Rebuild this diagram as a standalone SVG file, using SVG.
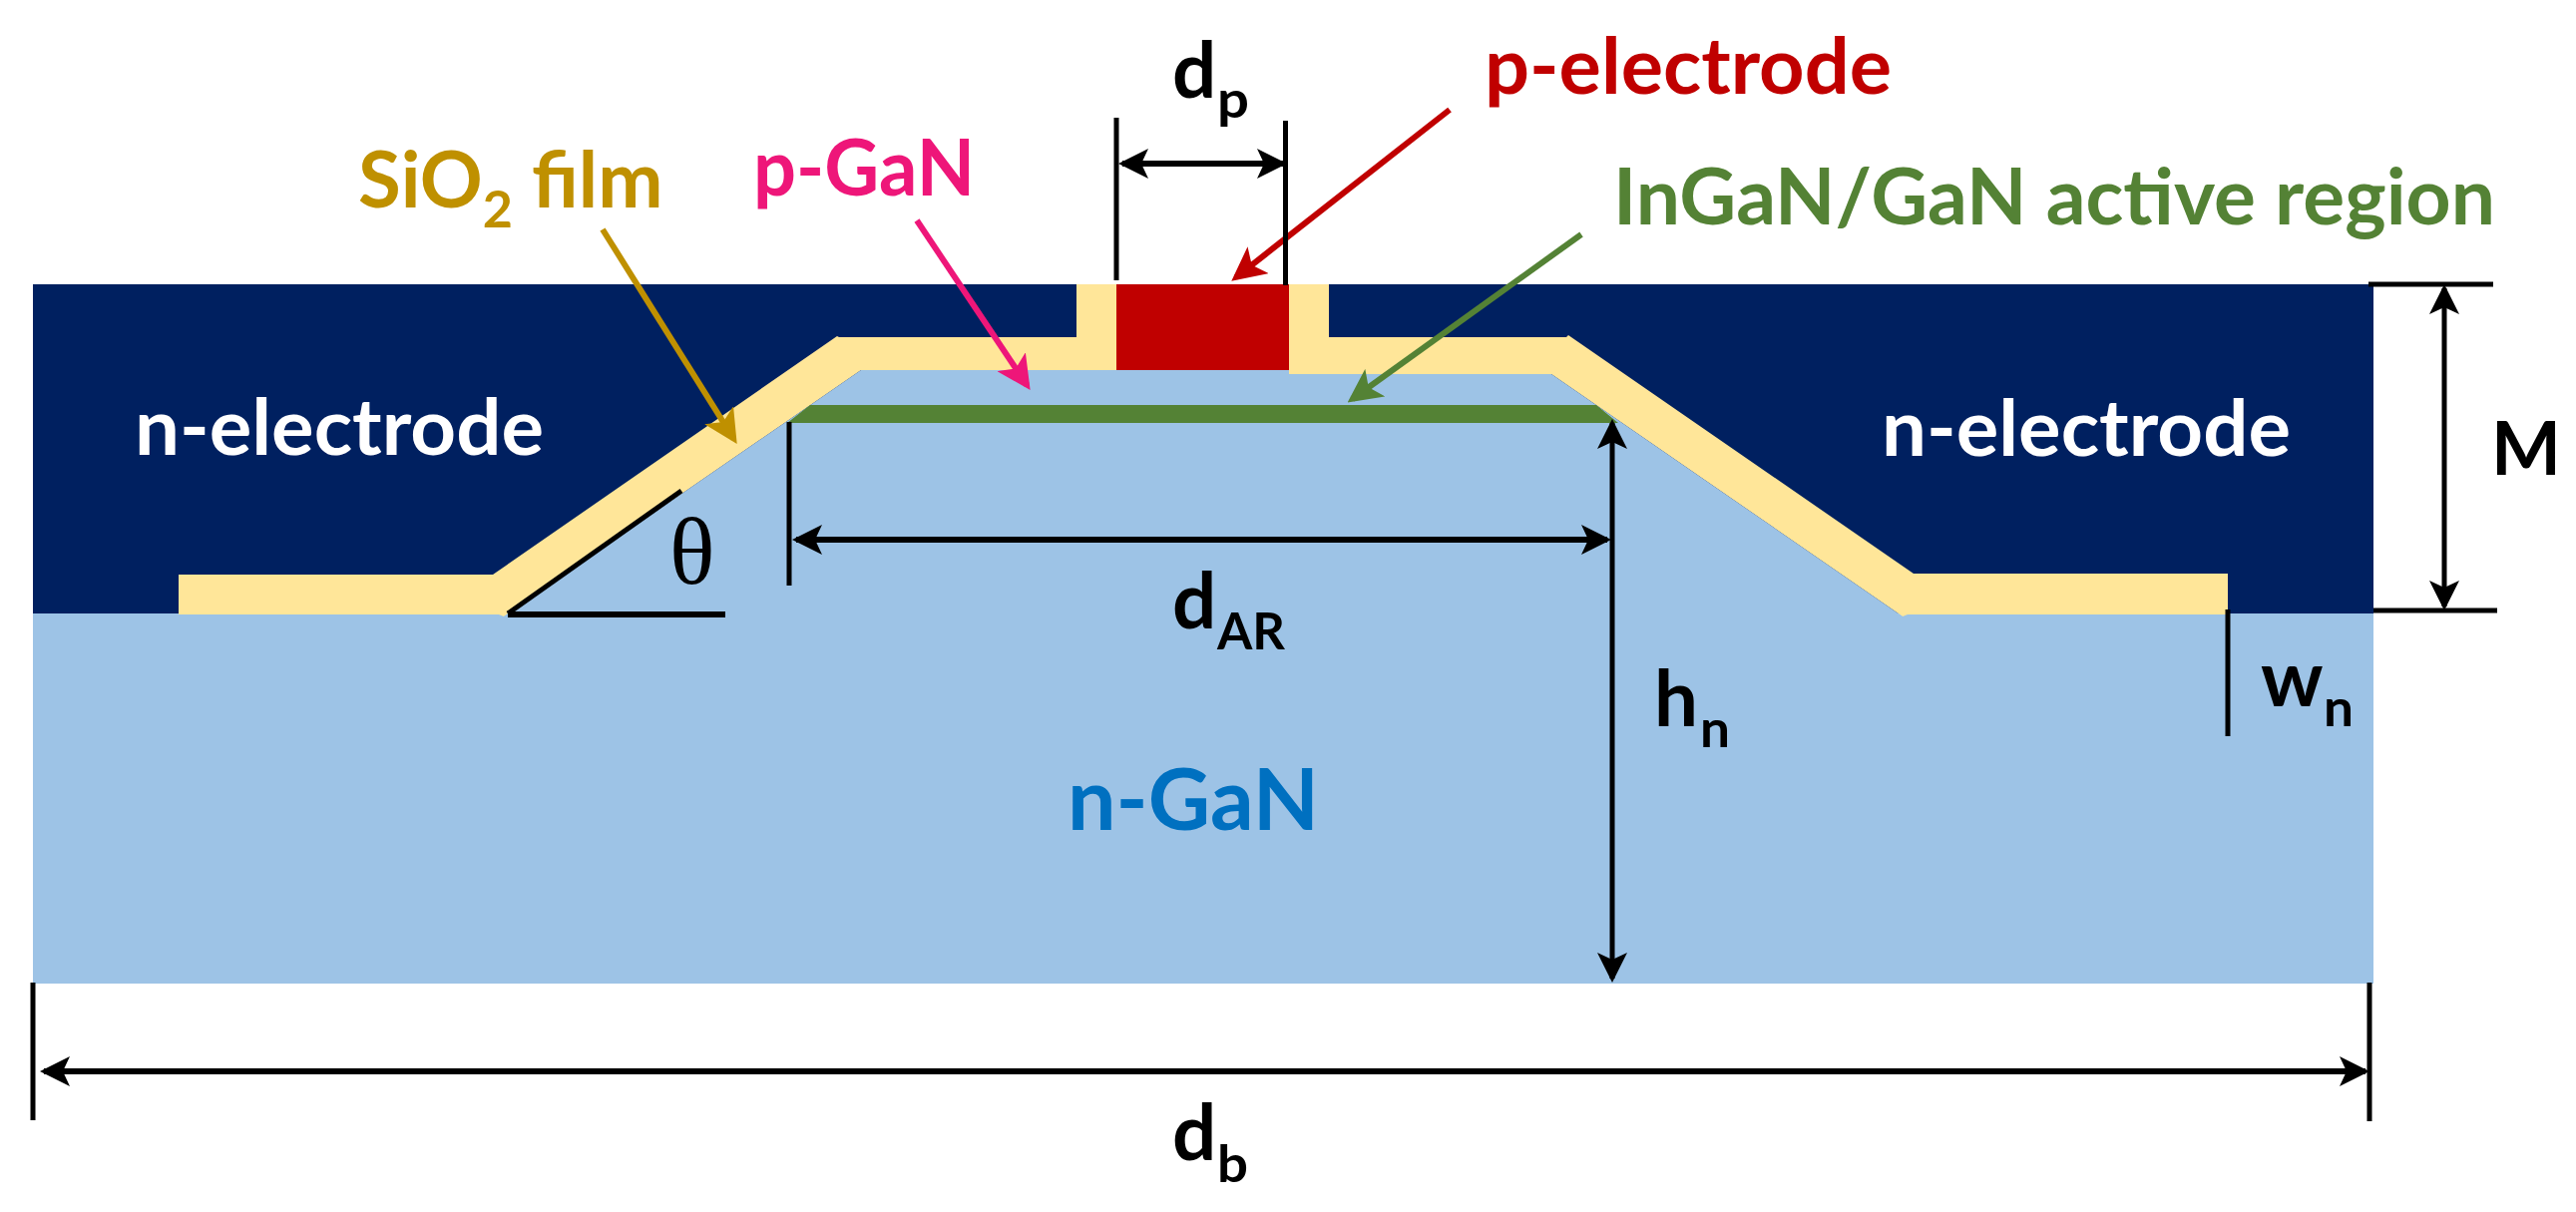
<svg xmlns="http://www.w3.org/2000/svg" width="2582" height="1215" viewBox="0 0 2582 1215">
<style>
text{font-family:"Lato","Liberation Sans",sans-serif;font-weight:700}
.lbl{font-size:78px}
.dim{font-size:78px;fill:#000}
.sub{font-size:52px;fill:#000}
.dl{fill:none;stroke:#000;stroke-width:5}
.da{fill:none;stroke:#000;stroke-width:6}
.ca{fill:none;stroke-width:6}
</style>
<defs>
<marker id="hb" markerUnits="userSpaceOnUse" markerWidth="30" markerHeight="30" refX="26" refY="15" orient="auto-start-reverse"><path d="M30 15L0 0L7 15L0 30Z" fill="#000"/></marker>
<marker id="hy" markerUnits="userSpaceOnUse" markerWidth="34" markerHeight="34" refX="28" refY="17" orient="auto"><path d="M34 17L0 0L8 17L0 34Z" fill="#BF9000"/></marker>
<marker id="hp" markerUnits="userSpaceOnUse" markerWidth="34" markerHeight="34" refX="28" refY="17" orient="auto"><path d="M34 17L0 0L8 17L0 34Z" fill="#EE1679"/></marker>
<marker id="hr" markerUnits="userSpaceOnUse" markerWidth="34" markerHeight="34" refX="28" refY="17" orient="auto"><path d="M34 17L0 0L8 17L0 34Z" fill="#C00000"/></marker>
<marker id="hg" markerUnits="userSpaceOnUse" markerWidth="34" markerHeight="34" refX="28" refY="17" orient="auto"><path d="M34 17L0 0L8 17L0 34Z" fill="#548235"/></marker>
</defs>
<rect width="2582" height="1215" fill="#fff"/>
<g id="n-electrode"><rect x="33" y="285" width="2346" height="331" fill="#002060"/></g>
<g id="n-GaN"><rect x="33" y="615" width="2346" height="371" fill="#9DC3E6"/></g>
<g id="SiO2"><polygon fill="#FFE699" points="179,576 494,576 839,337 841,338 1079,338 1079,285 1332,285 1332,338 1570,338 1572,336 1918,575 2233,575 2233,616 1912,616 1907,618 1555,375 1292,375 1292,371 863,371 505,618 500,616 179,616"/></g>
<g id="mesa"><polygon fill="#9DC3E6" points="505,618 863,371 1292,371 1292,375 1555,375 1907,618"/></g>
<g id="active-region"><polygon fill="#548235" points="812,406 1600,406 1622,424 789,424"/></g>
<g id="p-electrode"><rect x="1119" y="285" width="173" height="86" fill="#C00000"/></g>
<g id="connectors">
<line class="ca" x1="604" y1="230" x2="735.500" y2="440" stroke="#BF9000" marker-end="url(#hy)"/>
<line class="ca" x1="919" y1="221" x2="1029.300" y2="386" stroke="#EE1679" marker-end="url(#hp)"/>
<line class="ca" x1="1453" y1="110" x2="1239" y2="278" stroke="#C00000" marker-end="url(#hr)"/>
<line class="ca" x1="1585" y1="235" x2="1355.500" y2="400" stroke="#548235" marker-end="url(#hg)"/>
<line class="dl" x1="509" y1="615" x2="683" y2="492"/>
<line class="da" x1="509" y1="616" x2="727" y2="616"/>
<line class="dl" x1="791" y1="423" x2="791" y2="587"/>
<line class="da" x1="798" y1="541" x2="1611" y2="541" marker-start="url(#hb)" marker-end="url(#hb)"/>
<line class="dl" x1="1616" y1="424" x2="1616" y2="981" marker-start="url(#hb)" marker-end="url(#hb)"/>
<line class="dl" x1="2233" y1="611" x2="2233" y2="738"/>
<line class="dl" x1="2374" y1="285" x2="2499" y2="285"/>
<line class="dl" x1="2379" y1="612" x2="2503" y2="612"/>
<line class="dl" x1="2450" y1="289" x2="2450" y2="608" marker-start="url(#hb)" marker-end="url(#hb)"/>
<line class="dl" x1="1119" y1="118" x2="1119" y2="281"/>
<line class="dl" x1="1288.500" y1="121" x2="1288.500" y2="286"/>
<line class="da" x1="1125" y1="164" x2="1286" y2="164" marker-start="url(#hb)" marker-end="url(#hb)"/>
<line class="dl" x1="33" y1="985" x2="33" y2="1123"/>
<line class="dl" x1="2375" y1="985" x2="2375" y2="1124"/>
<line class="da" x1="44" y1="1074" x2="2371" y2="1074" marker-start="url(#hb)" marker-end="url(#hb)"/>
</g>
<g id="labels">
<text class="lbl" x="1488" y="94" fill="#C00000" textLength="408" lengthAdjust="spacingAndGlyphs">p-electrode</text>
<text class="lbl" x="1617" y="225" fill="#548235" textLength="884" lengthAdjust="spacingAndGlyphs">InGaN/GaN active region</text>
<text class="lbl" x="359" y="208" fill="#BF9000">SiO<tspan style="font-size:52px" dy="20">2</tspan><tspan dy="-20"> film</tspan></text>
<text class="lbl" x="755" y="196" fill="#EE1679" textLength="222" lengthAdjust="spacingAndGlyphs">p-GaN</text>
<text class="lbl" x="135" y="456" fill="#fff" textLength="410" lengthAdjust="spacingAndGlyphs">n-electrode</text>
<text class="lbl" x="1886" y="457" fill="#fff" textLength="410" lengthAdjust="spacingAndGlyphs">n-electrode</text>
<text x="1070" y="832" fill="#0070C0" style="font-size:86px" textLength="252" lengthAdjust="spacingAndGlyphs">n-GaN</text>
<text x="671" y="585" style="font-family:'Liberation Serif',serif;font-weight:400;font-size:95px" fill="#000">θ</text>
<text class="dim" x="1175" y="98">d</text><text class="sub" x="1220" y="118" textLength="32" lengthAdjust="spacingAndGlyphs">p</text>
<text class="dim" x="1175" y="630">d</text><text class="sub" x="1220" y="651" textLength="68" lengthAdjust="spacingAndGlyphs">AR</text>
<text class="dim" x="1658" y="728">h</text><text class="sub" x="1704" y="749" textLength="30" lengthAdjust="spacingAndGlyphs">n</text>
<text class="dim" x="2266" y="708">w</text><text class="sub" x="2329" y="728" textLength="30" lengthAdjust="spacingAndGlyphs">n</text>
<text class="dim" style="font-size:74px" x="2497" y="476">M</text>
<text class="dim" x="1175" y="1163">d</text><text class="sub" x="1220" y="1185" textLength="31" lengthAdjust="spacingAndGlyphs">b</text>
</g>
</svg>
